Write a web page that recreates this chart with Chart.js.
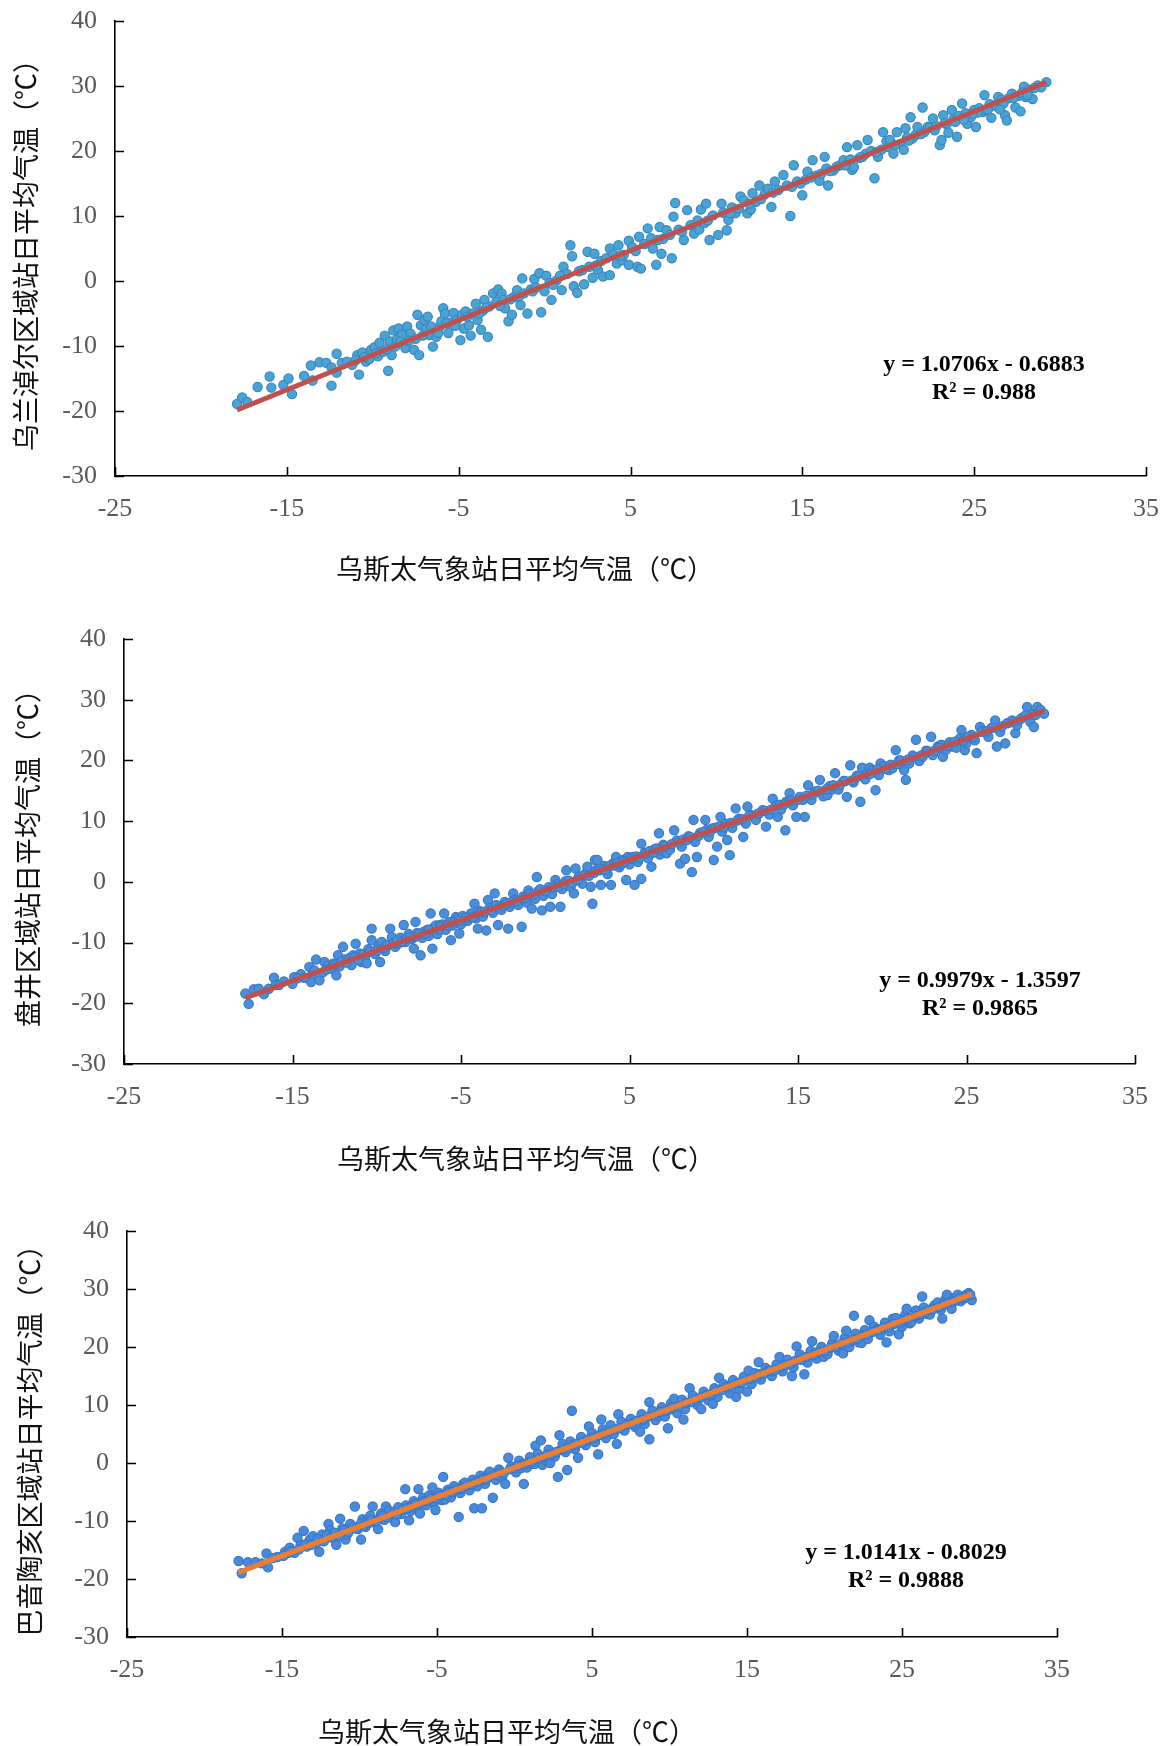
<!DOCTYPE html>
<html>
<head>
<meta charset="utf-8">
<script src="https://cdn.jsdelivr.net/npm/chart.js@4.4.1/dist/chart.umd.min.js"></script>
<style>
  html, body { margin: 0; padding: 0; background: #fff; }
  #page { position: relative; width: 1161px; height: 1746px; overflow: hidden; }
  .box { position: absolute; left: 0; width: 1161px; }
  .xt { position: absolute; width: 600px; text-align: center; font: 27px "Noto Sans CJK SC", sans-serif; line-height: 32px; color: #111; white-space: nowrap; }
  .eq { position: absolute; width: 400px; text-align: center; font: bold 24px "Liberation Serif", "Times New Roman", serif; line-height: 28px; color: #000; white-space: nowrap; }
</style>
</head>
<body>
<div id="page">
  <div class="box" style="top:0;height:600px"><canvas id="c1" width="1161" height="600"></canvas></div>
  <div class="box" style="top:600px;height:600px"><canvas id="c2" width="1161" height="600"></canvas></div>
  <div class="box" style="top:1200px;height:546px"><canvas id="c3" width="1161" height="546"></canvas></div>
</div>
<script>
// axis ticks shared by the three panels
const xTicks = [-25, -15, -5, 5, 15, 25, 35];
const yTicks = [-30, -20, -10, 0, 10, 20, 30, 40];

const xTitle = '乌斯太气象站日平均气温（℃）';
const yTitles = ['乌兰淖尔区域站日平均气温（℃）', '盘井区域站日平均气温（℃）', '巴音陶亥区域站日平均气温（℃）'];

// linear fits shown on each panel
const slopes = [1.0706, 0.9979, 1.0141];
const intercepts = [-0.6883, -1.3597, -0.8029];
const r2Labels = ['0.988', '0.9865', '0.9888'];

// [Wuste station, regional station] daily mean temperature
const wulanPts = [
  [-17.9,-18.9],[-17.6,-17.9],[-17.3,-18.6],[-16.7,-16.3],[-16.0,-14.7],[-15.9,-16.4],[-15.2,-16.0],[-14.9,-15.0],[-14.7,-17.4],
  [-14.0,-14.6],[-13.6,-13.0],[-13.5,-15.3],[-13.1,-12.5],[-12.7,-12.6],[-12.4,-16.1],[-12.4,-13.3],[-12.1,-11.2],[-12.1,-14.1],
  [-11.8,-12.6],[-11.5,-12.4],[-11.2,-12.9],[-10.9,-11.4],[-10.8,-14.4],[-10.6,-11.0],[-10.4,-12.4],[-10.2,-12.0],[-10.1,-10.6],
  [-9.9,-10.2],[-9.7,-11.6],[-9.6,-9.5],[-9.4,-10.9],[-9.3,-8.4],[-9.1,-13.8],[-9.0,-9.3],[-8.9,-11.4],[-8.8,-7.6],[-8.7,-10.1],
  [-8.6,-9.0],[-8.5,-7.3],[-8.3,-8.3],[-8.2,-9.6],[-8.1,-10.3],[-8.0,-7.0],[-7.8,-8.1],[-7.6,-10.6],[-7.5,-8.9],[-7.4,-5.2],
  [-7.3,-11.4],[-7.2,-6.8],[-7.0,-6.0],[-6.9,-7.4],[-6.8,-5.5],[-6.7,-8.3],[-6.5,-10.1],[-6.3,-8.6],[-6.1,-7.0],[-6.0,-6.2],
  [-5.9,-4.2],[-5.8,-5.0],[-5.6,-8.0],[-5.5,-6.4],[-5.3,-4.9],[-5.1,-6.0],[-4.9,-9.1],[-4.8,-5.2],[-4.7,-7.3],[-4.6,-4.7],
  [-4.4,-6.8],[-4.3,-8.4],[-4.2,-5.0],[-4.0,-3.5],[-3.9,-6.0],[-3.7,-7.5],[-3.6,-4.6],[-3.5,-2.9],[-3.3,-8.6],[-3.2,-3.9],
  [-3.0,-1.9],[-2.8,-3.2],[-2.7,-1.3],[-2.5,-1.9],[-2.4,-2.9],[-2.3,-4.2],[-2.1,-6.2],[-1.9,-5.2],[-1.8,-2.5],[-1.6,-1.4],
  [-1.4,-3.7],[-1.3,0.4],[-1.2,-1.9],[-1.0,-5.0],[-0.8,-1.3],[-0.7,-1.6],[-0.6,0.3],[-0.3,1.2],[-0.2,-4.8],[0.0,-1.6],
  [0.1,0.8],[0.3,-0.3],[0.4,-2.9],[0.7,0.1],[1.0,-1.4],[1.1,2.2],[1.3,1.1],[1.5,5.5],[1.6,3.8],[1.7,-0.8],[1.9,-1.8],
  [2.0,1.5],[2.3,-0.5],[2.5,4.5],[2.6,2.2],[2.8,0.5],[2.9,4.2],[3.1,1.7],[3.3,3.1],[3.4,0.7],[3.6,3.5],[3.8,0.9],[3.8,5.0],
  [4.0,4.1],[4.2,2.7],[4.3,5.5],[4.5,3.2],[4.6,4.0],[4.9,6.2],[4.9,2.5],[5.1,5.2],[5.4,2.2],[5.5,6.8],[5.6,1.9],[5.8,5.7],
  [6.0,8.1],[6.2,6.6],[6.3,5.0],[6.5,2.5],[6.7,8.3],[6.8,4.2],[6.9,6.5],[7.1,7.8],[7.4,3.5],[7.5,9.9],[7.6,12.0],[7.8,7.9],
  [8.1,6.3],[8.3,10.9],[8.5,8.6],[8.7,7.3],[8.9,9.3],[9.0,7.9],[9.1,11.0],[9.3,8.9],[9.4,11.9],[9.6,6.3],[9.8,10.1],
  [10.1,7.1],[10.3,11.9],[10.4,10.5],[10.6,7.8],[10.7,9.4],[10.9,11.3],[11.1,10.4],[11.3,11.1],[11.4,13.0],[11.6,12.4],
  [11.8,10.4],[12.0,11.0],[12.1,13.5],[12.3,12.2],[12.5,14.7],[12.8,13.3],[13.0,14.2],[13.2,11.4],[13.4,15.3],[13.6,14.0],
  [13.9,16.3],[14.1,14.7],[14.3,10.0],[14.5,17.8],[14.7,15.3],[14.9,15.0],[15.0,13.2],[15.2,15.6],[15.3,16.8],[15.6,18.6],
  [15.8,16.2],[16.0,15.4],[16.1,16.5],[16.3,19.1],[16.4,17.3],[16.5,14.7],[16.8,17.0],[17.0,17.6],[17.2,17.8],[17.4,18.6],
  [17.6,20.6],[17.8,18.7],[17.9,17.1],[18.0,17.5],[18.2,20.9],[18.3,18.9],[18.5,19.1],[18.7,19.6],[18.8,21.7],[19.0,20.0],
  [19.2,15.8],[19.4,19.1],[19.6,20.2],[19.7,22.9],[19.9,21.5],[20.0,20.6],[20.1,21.7],[20.3,19.6],[20.5,22.9],[20.7,21.1],
  [20.9,20.2],[21.0,23.5],[21.1,22.1],[21.3,25.2],[21.4,21.9],[21.6,22.5],[21.7,23.7],[22.0,26.7],[22.1,22.9],[22.3,23.7],
  [22.4,23.6],[22.6,25.0],[22.8,23.8],[23.0,20.9],[23.1,21.7],[23.2,25.5],[23.4,24.1],[23.5,22.8],[23.7,26.3],[23.8,24.9],
  [24.0,22.2],[24.1,25.4],[24.3,27.3],[24.5,25.8],[24.6,24.2],[24.8,25.2],[25.0,26.3],[25.1,23.7],[25.3,26.6],[25.5,26.0],
  [25.6,28.6],[25.7,26.3],[25.9,27.2],[26.0,25.1],[26.2,27.0],[26.4,28.3],[26.6,27.9],[26.8,25.5],[26.9,24.7],[27.0,28.1],
  [27.2,28.8],[27.4,26.7],[27.6,28.5],[27.7,26.1],[27.9,29.9],[28.0,28.3],[28.2,29.4],[28.4,28.0],[28.7,30.1],[28.9,29.8],
  [29.2,30.6],
  [-11.0,-12.2],[-10.5,-11.7],[-9.8,-11.1],[-9.2,-10.5],[-8.4,-9.3],[-7.9,-9.2],[-7.1,-8.4],[-6.6,-7.0],[-6.2,-8.0],[-5.7,-6.5],
  [-5.2,-6.9],[-4.5,-5.5],[-3.8,-5.0],[-3.4,-4.1],[-2.6,-3.8],[-2.0,-2.8],[-1.5,-2.4],[-0.5,-1.0],[0.5,-0.6],[0.9,0.8],
  [2.2,1.7],[3.0,2.4],[4.4,3.9],[5.3,4.6],[6.6,6.3],[7.3,7.1],[8.0,7.6],[9.5,9.3],[10.8,10.4],[11.9,11.9],[12.6,12.6],
  [13.3,13.6],[14.4,14.5],[15.5,15.9],[16.6,16.9],[17.5,17.8],[18.4,19.1],[19.3,19.8],[20.4,20.9],[21.2,21.6],[21.9,22.6],
  [22.7,23.2],[23.3,24.3],[23.9,24.5],[24.4,24.8],[25.2,25.9],[25.8,26.4],[26.3,26.9],[26.7,27.3],[27.3,28.2],[27.8,29.0],
  [28.5,29.7],[28.1,28.6],[26.5,26.4],[24.9,25.7]
];

const panjingPts = [
  [-17.8,-18.4],[-17.6,-20.1],[-17.3,-17.7],[-17.0,-17.6],[-16.7,-18.5],[-16.4,-17.6],[-16.1,-15.8],[-16.0,-17.0],[-15.5,-16.4],
  [-15.0,-16.8],[-14.9,-15.7],[-14.5,-15.2],[-14.0,-14.0],[-13.9,-16.5],[-13.8,-15.1],[-13.6,-12.8],[-13.4,-16.2],[-13.2,-14.9],
  [-13.1,-13.2],[-12.9,-13.8],[-12.7,-14.3],[-12.6,-13.5],[-12.4,-15.4],[-12.3,-12.1],[-12.2,-13.9],[-12.0,-10.7],[-11.9,-12.8],
  [-11.6,-12.5],[-11.5,-13.7],[-11.4,-12.1],[-11.25,-10.2],[-11.0,-11.8],[-10.9,-13.2],[-10.8,-11.9],[-10.7,-12.6],[-10.6,-13.4],
  [-10.5,-11.1],[-10.3,-7.7],[-10.3,-9.6],[-10.1,-11.9],[-9.9,-10.6],[-9.8,-13.2],[-9.7,-9.9],[-9.5,-11.4],[-9.3,-10.4],
  [-9.2,-7.7],[-9.1,-9.1],[-8.9,-10.7],[-8.75,-10.2],[-8.6,-9.2],[-8.4,-7.1],[-8.4,-9.6],[-8.3,-9.9],[-8.1,-8.6],[-7.9,-9.4],
  [-7.8,-11.0],[-7.7,-6.6],[-7.6,-8.4],[-7.4,-12.1],[-7.3,-9.2],[-7.2,-8.2],[-7.0,-7.9],[-6.9,-8.9],[-6.8,-5.2],[-6.7,-11.0],
  [-6.6,-7.5],[-6.5,-7.2],[-6.4,-8.6],[-6.25,-7.1],[-6.1,-7.0],[-6.0,-5.2],[-5.9,-7.9],[-5.7,-6.6],[-5.6,-9.6],[-5.5,-7.2],
  [-5.3,-5.8],[-5.2,-6.1],[-5.1,-8.5],[-5.0,-7.0],[-4.9,-5.6],[-4.8,-6.3],[-4.6,-6.4],[-4.5,-5.8],[-4.4,-5.2],[-4.2,-3.6],
  [-4.1,-6.0],[-4.0,-7.7],[-3.9,-4.8],[-3.7,-5.7],[-3.5,-8.0],[-3.4,-3.0],[-3.3,-4.3],[-3.1,-5.1],[-3.0,-1.9],[-2.9,-3.8],
  [-2.8,-7.1],[-2.7,-4.1],[-2.6,-4.6],[-2.4,-3.3],[-2.2,-7.7],[-2.1,-4.1],[-1.9,-1.9],[-1.8,-2.9],[-1.6,-3.8],[-1.4,-7.4],
  [-1.3,-2.4],[-1.1,-3.4],[-1.0,-1.4],[-0.9,-1.9],[-0.8,-4.4],[-0.6,-2.8],[-0.5,0.8],[-0.4,-1.5],[-0.3,-1.2],[-0.2,-4.7],
  [-0.1,-2.3],[0.2,-0.9],[0.3,-4.1],[0.4,-2.0],[0.6,0.3],[0.7,-0.4],[0.9,-4.1],[1.0,-1.2],[1.2,0.1],[1.25,1.9],[1.5,-0.8],
  [1.7,-1.9],[1.8,2.2],[2.0,0.9],[2.1,0.5],[2.2,-0.3],[2.4,1.4],[2.5,2.5],[2.7,-0.8],[2.8,-3.6],[2.95,3.6],[3.0,1.9],
  [3.1,3.6],[3.3,-0.5],[3.5,2.6],[3.7,1.3],[3.9,-0.5],[4.0,3.0],[4.2,4.1],[4.4,2.4],[4.5,2.9],[4.6,3.6],[4.8,0.3],[4.9,4.1],
  [5.0,2.9],[5.2,4.1],[5.3,-0.5],[5.5,3.3],[5.7,0.5],[5.7,6.3],[5.9,4.8],[6.1,3.9],[6.3,2.5],[6.5,5.4],[6.75,8.0],[6.8,4.5],
  [6.9,5.2],[7.0,6.1],[7.2,4.7],[7.4,5.3],[7.65,8.5],[7.8,6.8],[8.0,3.0],[8.1,5.8],[8.3,3.8],[8.5,7.5],[8.7,1.6],[8.8,10.2],
  [8.9,6.6],[9.0,4.1],[9.2,8.1],[9.5,10.2],[9.6,8.6],[9.7,7.4],[9.9,8.8],[10.0,3.6],[10.2,5.8],[10.4,10.7],[10.5,8.3],
  [10.7,9.6],[10.8,6.9],[10.95,4.4],[11.1,8.9],[11.3,12.1],[11.5,10.4],[11.75,7.4],[11.9,9.6],[12.0,12.4],[12.2,11.0],
  [12.4,10.8],[12.5,10.2],[12.7,11.3],[12.9,11.8],[13.1,9.1],[13.3,11.1],[13.5,13.7],[13.7,12.6],[13.8,10.7],[14.0,11.9],
  [14.25,8.5],[14.3,13.2],[14.5,14.6],[14.7,12.6],[14.9,10.7],[15.1,14.0],[15.3,13.5],[15.4,10.7],[15.6,15.9],[15.8,13.5],
  [16.0,14.9],[16.3,16.8],[16.5,14.1],[16.75,14.3],[16.9,15.8],[17.0,15.2],[17.2,17.9],[17.4,15.2],[17.7,16.6],[17.9,14.0],
  [18.1,19.2],[18.3,16.4],[18.5,17.5],[18.7,13.2],[18.8,18.8],[19.0,16.9],[19.1,17.8],[19.25,18.8],[19.4,18.4],[19.6,15.1],
  [19.8,17.6],[19.9,19.5],[20.1,19.1],[20.4,18.4],[20.6,18.7],[20.8,21.7],[21.0,20.0],[21.2,19.3],[21.3,18.4],[21.4,16.8],
  [21.6,19.5],[21.8,20.8],[22.0,23.4],[22.2,19.9],[22.4,20.6],[22.6,21.6],[22.9,23.9],[23.0,20.9],[23.3,22.3],[23.5,22.6],
  [23.6,20.6],[23.8,21.8],[24.0,23.0],[24.2,22.3],[24.4,22.1],[24.6,23.6],[24.7,25.0],[24.9,21.7],[25.0,22.8],[25.3,24.2],
  [25.5,23.3],[25.6,21.2],[25.8,25.5],[26.0,24.9],[26.3,23.9],[26.5,25.4],[26.7,26.6],[26.8,22.3],[27.0,24.7],[27.3,22.8],
  [27.5,26.2],[27.7,26.6],[27.9,24.5],[28.0,25.8],[28.3,27.0],[28.6,28.8],[28.8,26.3],[28.9,27.6],[29.0,25.5],[29.2,28.8],
  [29.4,28.3],[29.6,27.7],
  [-15.8,-17.0],[-14.7,-15.9],[-14.3,-15.8],[-13.7,-14.6],[-13.0,-14.5],[-12.5,-13.6],[-12.1,-13.1],[-11.8,-13.3],[-11.3,-12.4],
  [-11.1,-12.9],[-10.4,-11.5],[-10.0,-11.3],[-9.6,-10.9],[-9.4,-10.4],[-9.0,-10.1],[-8.8,-9.8],[-8.5,-9.9],[-8.2,-9.3],[-8.0,-9.1],
  [-7.7,-9.0],[-7.5,-8.6],[-7.1,-8.5],[-6.9,-7.9],[-6.3,-7.8],[-6.2,-7.3],[-5.8,-7.2],[-5.4,-6.6],[-5.1,-6.4],[-4.7,-5.9],
  [-4.3,-5.8],[-3.8,-5.0],[-3.6,-4.9],[-3.2,-4.7],[-2.5,-4.0],[-2.3,-3.6],[-2.0,-3.3],[-1.7,-3.2],[-1.2,-2.7],[-0.7,-2.1],
  [0.0,-1.5],[0.5,-0.9],[0.8,-0.8],[1.1,-0.4],[1.4,0.2],[1.6,-0.2],[1.9,0.3],[2.3,1.1],[2.6,1.0],[2.9,1.5],[3.2,1.9],
  [3.4,2.1],[3.6,2.0],[3.8,2.6],[4.1,2.7],[4.3,3.1],[4.7,3.3],[5.1,3.8],[5.4,4.2],[5.6,4.0],[6.0,4.7],[6.2,5.1],[6.4,4.8],
  [6.6,5.5],[7.1,5.9],[7.5,6.2],[7.9,6.5],[8.2,7.0],[8.4,6.9],[8.6,7.4],[9.1,7.6],[9.4,8.2],[9.8,8.3],[10.1,8.9],[10.3,9.1],
  [10.6,9.0],[11.0,9.7],[11.4,10.1],[11.7,10.3],[12.1,10.9],[12.6,11.2],[13.0,11.7],[13.4,11.9],[13.9,12.7],[14.2,12.8],
  [14.6,13.4],[15.0,13.5],[15.5,14.2],[15.9,14.4],[16.2,15.0],[16.7,15.3],[17.1,15.9],[17.5,16.0],[17.8,16.6],[18.2,16.7],
  [18.6,17.4],[19.3,17.8],[19.7,18.5],[20.2,18.6],[20.5,19.3],[20.9,19.4],[21.1,20.0],[21.5,20.1],[21.9,20.6],[22.3,20.8],
  [22.7,21.5],[23.1,21.6],[23.4,22.1],[23.9,22.4],[24.3,23.1],[24.8,23.2],[25.1,23.9],[25.4,23.8],[25.9,24.7],[26.2,24.8],
  [26.6,25.4],[27.1,25.6],[27.4,26.1],[27.8,26.4],[28.2,26.8],[28.5,27.4],[29.1,27.5]
];

const bayinPts = [
  [-17.8,-16.9],[-17.6,-19.0],[-17.2,-17.1],[-16.7,-17.1],[-16.0,-15.6],[-15.9,-18.0],[-15.3,-16.2],[-14.8,-15.3],[-14.6,-15.5],
  [-14.5,-14.6],[-14.2,-15.5],[-14.0,-12.9],[-13.8,-14.2],[-13.6,-11.7],[-13.4,-14.4],[-13.2,-13.2],[-13.0,-12.6],[-12.8,-13.9],
  [-12.6,-15.3],[-12.4,-12.3],[-12.2,-13.0],[-12.0,-10.5],[-11.9,-11.6],[-11.7,-12.9],[-11.5,-14.1],[-11.4,-12.2],[-11.25,-9.6],
  [-11.1,-11.3],[-10.9,-13.2],[-10.8,-12.3],[-10.6,-10.5],[-10.3,-7.5],[-10.1,-11.4],[-9.9,-13.2],[-9.8,-9.7],[-9.6,-11.0],
  [-9.5,-9.9],[-9.3,-9.1],[-9.15,-7.5],[-9.0,-10.3],[-8.8,-11.4],[-8.7,-9.5],[-8.6,-8.7],[-8.4,-9.8],[-8.3,-7.5],[-8.1,-8.2],
  [-7.9,-9.4],[-7.7,-10.2],[-7.5,-7.6],[-7.3,-8.8],[-7.05,-4.5],[-7.0,-7.3],[-6.8,-9.9],[-6.7,-8.3],[-6.5,-6.6],[-6.3,-7.7],
  [-6.2,-4.5],[-6.1,-8.7],[-6.0,-6.9],[-5.9,-6.0],[-5.7,-7.3],[-5.5,-5.6],[-5.3,-4.2],[-5.2,-6.8],[-5.1,-8.1],[-4.9,-5.1],
  [-4.7,-6.4],[-4.6,-2.4],[-4.5,-6.3],[-4.3,-4.6],[-4.1,-5.9],[-3.9,-4.0],[-3.8,-4.7],[-3.6,-9.3],[-3.5,-5.2],[-3.3,-3.6],
  [-3.2,-3.4],[-2.9,-4.7],[-2.7,-2.9],[-2.6,-7.8],[-2.4,-4.0],[-2.2,-2.2],[-2.1,-7.8],[-1.9,-3.6],[-1.7,-1.9],[-1.6,-1.5],
  [-1.5,-2.3],[-1.4,-6.0],[-1.2,-2.9],[-1.0,-1.1],[-0.8,-2.4],[-0.6,-3.6],[-0.4,0.9],[-0.2,-0.6],[0.1,-1.6],[0.3,0.4],
  [0.4,-0.9],[0.5,-0.2],[0.6,-3.6],[0.8,-0.8],[1.0,1.0],[1.3,-0.2],[1.35,3.0],[1.5,1.6],[1.7,3.9],[1.8,-0.3],[2.0,0.5],
  [2.2,2.3],[2.3,0.0],[2.6,1.1],[2.8,-2.4],[2.9,4.8],[3.0,2.3],[3.1,3.3],[3.3,1.9],[3.4,-1.2],[3.6,3.7],[3.7,9.0],[3.9,2.4],
  [4.1,0.9],[4.3,4.5],[4.6,3.1],[4.8,6.3],[5.0,5.2],[5.2,3.6],[5.3,4.6],[5.4,1.5],[5.6,7.5],[5.7,5.8],[5.9,4.3],[6.2,6.5],
  [6.4,5.0],[6.6,3.3],[6.7,8.4],[6.9,7.1],[7.1,5.6],[7.35,6.9],[7.5,7.6],[7.7,7.0],[7.8,6.2],[8.1,5.4],[8.2,8.4],[8.4,6.7],
  [8.7,4.1],[8.7,10.5],[8.9,9.0],[9.1,7.4],[9.3,8.1],[9.5,9.6],[9.7,8.0],[9.9,6.0],[10.0,9.2],[10.1,10.3],[10.3,11.1],
  [10.5,8.6],[10.8,10.9],[10.9,7.5],[11.0,9.3],[11.3,12.9],[11.5,11.6],[11.8,10.0],[12.05,9.3],[12.2,12.3],[12.3,11.5],
  [12.5,10.8],[12.8,10.2],[12.9,12.9],[13.1,11.4],[13.2,14.7],[13.5,13.6],[13.8,12.9],[13.9,12.0],[14.1,14.3],[14.3,11.4],
  [14.5,12.8],[14.6,13.9],[14.8,14.9],[15.0,12.3],[15.1,15.9],[15.3,13.6],[15.5,15.5],[15.75,17.4],[15.9,14.4],[16.2,16.4],
  [16.4,15.9],[16.6,15.0],[16.9,17.0],[17.0,16.3],[17.1,18.3],[17.3,15.8],[17.6,17.8],[17.9,15.0],[18.0,16.5],[18.2,20.1],
  [18.4,18.7],[18.7,15.3],[18.9,17.3],[19.1,19.3],[19.2,21.0],[19.4,19.0],[19.5,18.0],[19.8,20.0],[19.95,18.3],[20.2,18.8],
  [20.5,20.6],[20.6,21.9],[20.9,19.4],[21.2,18.9],[21.3,21.5],[21.4,22.8],[21.6,20.0],[21.7,21.1],[21.9,25.4],[22.0,22.3],
  [22.2,20.8],[22.4,20.7],[22.6,22.9],[22.8,21.4],[22.9,24.6],[23.2,23.5],[23.4,23.1],[23.6,22.1],[23.9,24.2],[24.0,20.8],
  [24.2,22.7],[24.3,23.8],[24.4,24.9],[24.6,25.0],[24.8,22.2],[25.0,23.5],[25.2,25.5],[25.3,26.6],[25.5,24.1],[25.6,24.3],
  [25.9,26.3],[26.1,24.9],[26.3,28.7],[26.4,26.8],[26.6,25.7],[26.8,25.6],[26.9,26.5],[27.1,27.2],[27.3,27.7],[27.5,26.4],
  [27.6,24.9],[27.8,28.2],[27.9,29.0],[28.1,27.1],[28.2,26.6],[28.4,28.5],[28.6,29.0],[28.8,27.9],[29.0,28.4],[29.15,29.0],
  [29.3,29.3],[29.5,28.1],
  [-16.3,-17.3],[-15.6,-16.4],[-14.9,-16.0],[-14.4,-15.2],[-13.9,-14.9],[-13.5,-14.0],[-13.1,-14.1],[-12.7,-13.1],[-12.3,-13.5],
  [-12.1,-12.4],[-11.8,-12.8],[-11.6,-12.0],[-11.3,-12.6],[-11.0,-11.6],[-10.7,-11.9],[-10.4,-11.0],[-10.2,-11.3],[-9.9,-10.4],
  [-9.7,-10.8],[-9.4,-10.3],[-9.2,-9.8],[-8.9,-10.0],[-8.5,-9.1],[-8.2,-9.4],[-7.8,-8.5],[-7.6,-8.9],[-7.2,-8.0],[-6.9,-7.8],
  [-6.6,-7.4],[-6.4,-7.1],[-5.8,-6.6],[-5.6,-6.5],[-5.4,-6.1],[-5.0,-6.1],[-4.8,-5.6],[-4.4,-5.5],[-4.2,-4.9],[-4.0,-5.0],
  [-3.7,-4.5],[-3.4,-4.4],[-3.1,-3.9],[-2.8,-3.7],[-2.5,-3.3],[-2.3,-3.1],[-2.0,-2.7],[-1.8,-2.8],[-1.3,-2.0],[-1.1,-2.1],
  [-0.9,-1.6],[-0.7,-1.8],[-0.3,-1.1],[0.0,-0.9],[0.2,-0.5],[0.7,-0.2],[0.9,0.0],[1.1,0.2],[1.6,0.8],[1.9,1.1],[2.1,1.4],
  [2.4,1.5],[2.7,1.9],[3.2,2.4],[3.5,2.6],[3.8,3.1],[4.0,3.3],[4.4,3.5],[4.7,4.0],[5.1,4.3],[5.5,4.8],[5.8,5.1],[6.1,5.4],
  [6.5,5.8],[6.8,6.0],[7.2,6.6],[7.6,6.7],[7.9,7.3],[8.3,7.5],[8.6,8.0],[9.0,8.2],[9.4,8.8],[9.8,9.0],[10.2,9.6],[10.6,9.8],
  [11.1,10.4],[11.4,10.5],[11.7,11.0],[12.0,11.3],[12.4,11.7],[12.7,11.9],[13.0,12.4],[13.4,12.6],[13.7,13.1],[14.0,13.2],
  [14.4,13.8],[14.7,13.9],[15.2,14.5],[15.6,14.8],[15.8,15.3],[16.1,15.4],[16.5,15.9],[16.8,16.0],[17.2,16.6],[17.5,16.9],
  [17.8,17.1],[18.1,17.6],[18.5,17.8],[18.8,18.3],[19.3,18.6],[19.7,19.2],[20.0,19.3],[20.4,19.9],[20.7,20.0],[21.1,20.6],
  [21.5,20.8],[21.8,21.3],[22.1,21.4],[22.5,22.0],[22.7,22.1],[23.1,22.6],[23.5,22.9],[23.8,23.3],[24.1,23.4],[24.5,24.0],
  [24.9,24.2],[25.1,24.6],[25.4,24.9],[25.8,25.3],[26.0,25.5],[26.2,25.7],[26.5,26.0],[26.7,26.4],[27.0,26.5],[27.4,26.9],
  [27.7,27.3],[28.0,27.6],[28.3,27.8],[28.5,28.0],[28.7,28.4],[29.1,28.6],[29.4,29.0]
];

const stationPts = [wulanPts, panjingPts, bayinPts];
const pointFill = ['#4ba3d4', '#4a8fd8', '#4a8bd9'];
const pointEdge = ['#3a86bd', '#3b78c4', '#3a74c6'];
const lineColors = ['#c0504d', '#c0504d', '#ed7d31'];

// panel geometry in page pixels
const panels = [
  { id: 'c1', top: 0,    h: 600, left: 115, right: 1146, pTop: 21,   pBot: 476,  yTitlePad: 10,
    xtX: 525, xtY: 568,  eqX: 984, eqY: 363 },
  { id: 'c2', top: 600,  h: 600, left: 124, right: 1135, pTop: 639,  pBot: 1064, yTitlePad: 12,
    xtX: 526, xtY: 1158, eqX: 980, eqY: 979 },
  { id: 'c3', top: 1200, h: 546, left: 127, right: 1057, pTop: 1231, pBot: 1637, yTitlePad: 14,
    xtX: 507, xtY: 1731, eqX: 906, eqY: 1551 }
];

const tickFont = { family: '"Liberation Serif", "Times New Roman", serif', size: 26 };

const insideTicks = {
  id: 'insideTicks',
  afterDraw(chart) {
    const { ctx, scales: { x, y } } = chart;
    ctx.save();
    ctx.strokeStyle = '#000';
    ctx.lineWidth = 1.6;
    ctx.beginPath();
    x.ticks.forEach(t => {
      const px = Math.round(x.getPixelForValue(t.value)) + 0.5;
      ctx.moveTo(px, y.bottom);
      ctx.lineTo(px, y.bottom - 9);
    });
    y.ticks.forEach(t => {
      const py = Math.round(y.getPixelForValue(t.value)) + 0.5;
      ctx.moveTo(x.left, py);
      ctx.lineTo(x.left + 9, py);
    });
    ctx.stroke();
    ctx.restore();
  }
};

const page = document.getElementById('page');

panels.forEach((p, i) => {
  const pts = stationPts[i].map(d => ({ x: d[0], y: d[1] }));
  const xs = stationPts[i].map(d => d[0]);
  const x0 = Math.min(...xs), x1 = Math.max(...xs);
  const fit = [x0, x1].map(v => ({ x: v, y: slopes[i] * v + intercepts[i] }));

  const xHeight = 60;
  new Chart(document.getElementById(p.id), {
    type: 'scatter',
    data: {
      datasets: [
        { data: pts, backgroundColor: pointFill[i], borderColor: pointEdge[i], borderWidth: 1.2, pointRadius: 4.6, order: 1 },
        { type: 'line', data: fit, borderColor: lineColors[i], borderWidth: 5, pointRadius: 0, showLine: true, fill: false, order: 0 }
      ]
    },
    options: {
      responsive: false,
      animation: false,
      layout: { padding: { left: 0, top: p.pTop - p.top, right: 1161 - p.right, bottom: p.h - (p.pBot - p.top) - xHeight } },
      plugins: { legend: { display: false }, tooltip: { enabled: false } },
      scales: {
        x: {
          type: 'linear', min: -25, max: 35,
          afterBuildTicks: s => { s.ticks = xTicks.map(v => ({ value: v })); },
          afterFit: s => { s.height = xHeight; },
          // label offset comes from the (hidden) tick length so it does not pad the sides
          grid: { display: false, drawTicks: true, tickLength: 18 },
          border: { display: true, color: '#000', width: 1.6 },
          ticks: { font: tickFont, color: '#595959', padding: 0 }
        },
        y: {
          type: 'linear', min: -30, max: 40,
          afterBuildTicks: s => { s.ticks = yTicks.map(v => ({ value: v })); },
          afterFit: s => { s.width = p.left; },
          grid: { display: false, drawTicks: true, tickLength: 18 },
          border: { display: true, color: '#000', width: 1.6 },
          ticks: { font: tickFont, color: '#595959', padding: 0 },
          title: {
            display: true, text: yTitles[i], color: '#111',
            font: { family: '"Noto Sans CJK SC", sans-serif', size: 27 },
            padding: { top: p.yTitlePad, bottom: 0 }
          }
        }
      }
    },
    plugins: [insideTicks]
  });

  const xt = document.createElement('div');
  xt.className = 'xt';
  xt.textContent = xTitle;
  xt.style.left = (p.xtX - 300) + 'px';
  xt.style.top = (p.xtY - 16) + 'px';
  page.appendChild(xt);

  const sign = intercepts[i] < 0 ? ' - ' : ' + ';
  const lines = ['y = ' + slopes[i].toFixed(4) + 'x' + sign + Math.abs(intercepts[i]).toFixed(4), 'R² = ' + r2Labels[i]];
  lines.forEach((t, k) => {
    const eq = document.createElement('div');
    eq.className = 'eq';
    eq.textContent = t;
    eq.style.left = (p.eqX - 200) + 'px';
    eq.style.top = (p.eqY + k * 28 - 14) + 'px';
    page.appendChild(eq);
  });
});
</script>
</body>
</html>
